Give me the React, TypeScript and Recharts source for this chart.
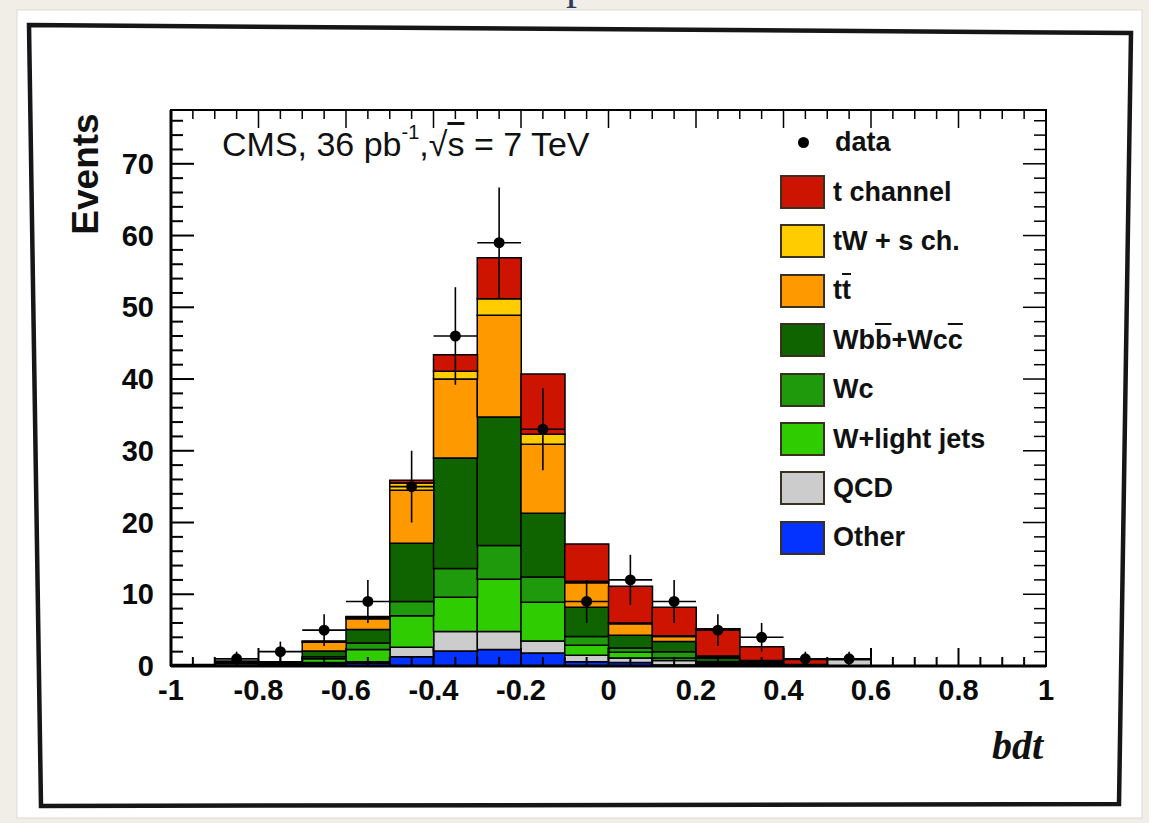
import React from "react";
import {
  ComposedChart,
  Bar,
  Scatter,
  ErrorBar,
  XAxis,
  YAxis,
  ReferenceArea,
  Legend,
} from "recharts";

// bdt bins, width 0.1
const binCenters = [
  -0.95, -0.85, -0.75, -0.65, -0.55, -0.45, -0.35, -0.25, -0.15, -0.05,
  0.05, 0.15, 0.25, 0.35, 0.45, 0.55, 0.65, 0.75, 0.85, 0.95,
];

// stacked MC contributions, bottom to top
const other = [0, 0, 0.1, 0.3, 0.4, 1.3, 2.1, 2.3, 1.8, 0.6, 0.5, 0.15, 0.1, 0.05, 0, 0, 0, 0, 0, 0];
const qcd = [0, 0.3, 0, 0.2, 0.2, 1.3, 2.7, 2.5, 1.7, 0.9, 0.6, 0.6, 0.1, 0.05, 0, 0.9, 0, 0, 0, 0];
const wLight = [0.1, 0.2, 0.2, 0.5, 1.7, 4.4, 4.8, 7.3, 5.4, 1.4, 0.8, 0.35, 0.2, 0.1, 0, 0, 0, 0, 0, 0];
const wc = [0, 0, 0.1, 0.3, 0.9, 2.0, 4.0, 4.7, 3.5, 1.2, 0.6, 0.9, 0.2, 0.1, 0, 0, 0, 0, 0, 0];
const wbb = [0.1, 0.2, 0.2, 0.8, 1.9, 8.1, 15.4, 17.9, 8.9, 4.1, 1.8, 1.4, 0.5, 0.2, 0.1, 0, 0, 0, 0, 0];
const ttbar = [0, 0, 0, 1.2, 1.5, 7.4, 11.0, 14.2, 9.6, 3.4, 1.6, 0.7, 0.2, 0.15, 0.1, 0, 0, 0, 0, 0];
const tWsch = [0, 0, 0, 0.1, 0.2, 1.0, 1.1, 2.3, 1.4, 0.2, 0.1, 0.1, 0.1, 0.1, 0, 0, 0, 0, 0, 0];
const tChannel = [0, 0, 0, 0.1, 0.1, 0.4, 2.3, 5.7, 8.4, 5.2, 5.1, 4.0, 3.8, 1.95, 0.7, 0.1, 0, 0, 0, 0];

// observed data and its errors
const dataCounts = [0, 1, 2, 5, 9, 25, 46, 59, 33, 9, 12, 9, 5, 4, 1, 1, 0, 0, 0, 0];
const dataErrors = [0, 1, 1.4, 2.2, 3, 5, 6.8, 7.7, 5.7, 3, 3.5, 3, 2.2, 2, 1, 1, 0, 0, 0, 0];

const xMajorTicks = [-1, -0.8, -0.6, -0.4, -0.2, 0, 0.2, 0.4, 0.6, 0.8, 1];
const yMajorTicks = [0, 10, 20, 30, 40, 50, 60, 70];

const series = [
  { key: "other", name: "Other", color: "#0433ff", values: other },
  { key: "qcd", name: "QCD", color: "#cccccc", values: qcd },
  { key: "wLight", name: "W+light jets", color: "#2ecc00", values: wLight },
  { key: "wc", name: "Wc", color: "#1f9a0c", values: wc },
  { key: "wbb", name: "Wbb+Wcc", color: "#0f6400", values: wbb },
  { key: "ttbar", name: "tt", color: "#ff9900", values: ttbar },
  { key: "tW", name: "tW + s ch.", color: "#ffcc00", values: tWsch },
  { key: "tChannel", name: "t channel", color: "#cc1400", values: tChannel },
];

const histData = binCenters.map((x, i) => {
  const row: Record<string, number> = { x };
  series.forEach((s) => (row[s.key] = s.values[i]));
  return row;
});

const points = binCenters
  .map((x, i) => ({ x, n: dataCounts[i], ey: dataErrors[i], ex: 0.05 }))
  .filter((p) => p.n > 0);

const xTicks: number[] = [];
for (let i = -20; i <= 20; i++) xTicks.push(i / 20);
const yTicks: number[] = [];
for (let v = 0; v <= 76; v += 2) yTicks.push(v);

const PLOT = { left: 171, right: 1046, top: 110, bottom: 666 };
const W = 1149;
const H = 823;
const Y_MAX = 77.5;
const FONT = "'Liberation Sans', Arial, Helvetica, sans-serif";

const fmt = (v: number) => String(Number(v.toFixed(1)));

const XTick = (props: any) => {
  const { x, payload } = props;
  const v: number = payload.value;
  const major = xMajorTicks.some((m) => Math.abs(m - v) < 1e-6);
  const len = major ? 18 : 9;
  return (
    <g>
      <line x1={x} x2={x} y1={PLOT.bottom} y2={PLOT.bottom - len} stroke="#000" strokeWidth={2} />
      <line x1={x} x2={x} y1={PLOT.top} y2={PLOT.top + len} stroke="#000" strokeWidth={1.5} />
      {major && (
        <text x={x} y={PLOT.bottom + 34} textAnchor="middle" fontFamily={FONT} fontWeight="bold" fontSize={29} fill="#0a0a0a">
          {fmt(v)}
        </text>
      )}
    </g>
  );
};

const YTick = (props: any) => {
  const { y, payload } = props;
  const v: number = payload.value;
  const major = yMajorTicks.includes(v);
  const len = major ? 23 : 12;
  return (
    <g>
      <line x1={PLOT.left} x2={PLOT.left + len} y1={y} y2={y} stroke="#000" strokeWidth={2} />
      <line x1={PLOT.right} x2={PLOT.right - len} y1={y} y2={y} stroke="#000" strokeWidth={1.5} />
      {major && (
        <text x={PLOT.left - 17} y={y + 10} textAnchor="end" fontFamily={FONT} fontWeight="bold" fontSize={29} fill="#0a0a0a">
          {v}
        </text>
      )}
    </g>
  );
};

const Over = ({ children }: { children: React.ReactNode }) => (
  <span style={{ textDecoration: "overline" }}>{children}</span>
);

const legendLabel = (name: string) => {
  if (name === "tt") return <>t<Over>t</Over></>;
  if (name === "Wbb+Wcc")
    return <>Wb<Over>b</Over>+Wc<Over>c</Over></>;
  return name;
};

const ROW = 49.4;

const renderLegend = () => {
  const rows = [...series].reverse();
  return (
    <div style={{ position: "relative", width: 260, height: ROW * 9, fontFamily: FONT, fontWeight: "bold", fontSize: 27, color: "#111" }}>
      <div style={{ position: "absolute", left: 0, top: 0, height: ROW, display: "flex", alignItems: "center" }}>
        <div style={{ width: 11, height: 11, borderRadius: 6, background: "#000", marginLeft: 23, marginRight: 26 }} />
        <span>data</span>
      </div>
      {rows.map((s, i) => (
        <div key={s.key} style={{ position: "absolute", left: 0, top: ROW * (i + 1), height: ROW, display: "flex", alignItems: "center" }}>
          <div style={{ width: 41, height: 30, background: s.color, border: "2px solid #3a3020", marginLeft: 5, marginRight: 8 }} />
          <span style={{ whiteSpace: "nowrap" }}>{legendLabel(s.name)}</span>
        </div>
      ))}
    </div>
  );
};

const Dot = (props: any) => <circle cx={props.cx} cy={props.cy} r={5.5} fill="#000" />;

export default function App() {
  return (
    <div style={{ position: "absolute", left: 0, top: 0, width: W, height: H, background: "#f1eee8", overflow: "hidden" }}>
      <svg width={W} height={H} style={{ position: "absolute", left: 0, top: 0 }}>
        <text x={566} y={-1} fontSize={44} fontFamily="'Liberation Serif', serif" fill="#2d3b5a">p</text>
        <rect x={17} y={10} width={1125} height={808} fill="#fff" stroke="#dedad3" />
        <polygon points="29,25 1131,33 1119,804 41,806" fill="#fff" stroke="#161616" strokeWidth={4.5} />
      </svg>
      <div style={{ position: "absolute", left: 0, top: 0 }}>
        <ComposedChart
          width={W}
          height={H}
          data={histData}
          margin={{ top: PLOT.top, right: W - PLOT.right, bottom: H - PLOT.bottom - 60, left: PLOT.left - 60 }}
          barCategoryGap={0}
          barGap={0}
        >
          <XAxis
            dataKey="x"
            type="number"
            domain={[-1, 1]}
            ticks={xTicks}
            interval={0}
            tick={(p: any) => <XTick {...p} />}
            tickLine={false}
            axisLine={{ stroke: "#000", strokeWidth: 3 }}
            height={60}
            allowDataOverflow
          />
          <YAxis
            type="number"
            domain={[0, Y_MAX]}
            ticks={yTicks}
            interval={0}
            tick={(p: any) => <YTick {...p} />}
            tickLine={false}
            axisLine={{ stroke: "#000", strokeWidth: 3 }}
            width={60}
            allowDataOverflow
          />
          {series.map((s) => (
            <Bar
              key={s.key}
              dataKey={s.key}
              name={s.name}
              stackId="mc"
              fill={s.color}
              stroke="#000"
              strokeWidth={1.5}
              isAnimationActive={false}
            />
          ))}
          <ReferenceArea x1={-1} x2={1} y1={0} y2={Y_MAX} fill="none" stroke="#000" strokeWidth={2} ifOverflow="visible" />
          <Scatter data={points} dataKey="n" name="data" shape={<Dot />} isAnimationActive={false}>
            <ErrorBar dataKey="ey" direction="y" width={0} stroke="#000" strokeWidth={1.6} />
            <ErrorBar dataKey="ex" direction="x" width={0} stroke="#000" strokeWidth={1.6} />
          </Scatter>
          <Legend
            layout="vertical"
            align="center"
            verticalAlign="middle"
            wrapperStyle={{ position: "absolute", left: 775, top: 118, width: 260 }}
            content={renderLegend}
          />
        </ComposedChart>
      </div>
      <div style={{ position: "absolute", left: 222, top: 125, fontFamily: FONT, fontSize: 34, color: "#111", whiteSpace: "nowrap" }}>
        CMS, 36 pb<sup style={{ fontSize: 20, verticalAlign: "top", position: "relative", top: -4 }}>-1</sup>,√<span style={{ textDecoration: "overline" }}>s</span> = 7 TeV
      </div>
      <div
        style={{
          position: "absolute",
          left: 86,
          top: 174,
          transform: "translate(-50%, -50%) rotate(-90deg)",
          fontFamily: FONT,
          fontWeight: "bold",
          fontSize: 37,
          color: "#111",
          whiteSpace: "nowrap",
        }}
      >
        Events
      </div>
      <div
        style={{
          position: "absolute",
          right: W - 1043,
          top: 722,
          fontFamily: "'Liberation Serif', 'Times New Roman', serif",
          fontStyle: "italic",
          fontWeight: "bold",
          fontSize: 40,
          color: "#111",
        }}
      >
        bdt
      </div>
    </div>
  );
}
